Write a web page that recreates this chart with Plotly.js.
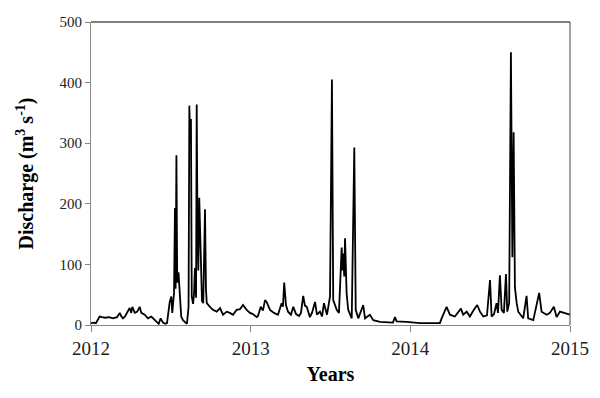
<!DOCTYPE html>
<html>
<head>
<meta charset="utf-8">
<script src="https://cdn.plot.ly/plotly-3.0.1.min.js"></script>
<style>html,body{margin:0;padding:0;background:#fff;}#chart{width:600px;height:398px;}</style>
</head>
<body>
<div id="chart"></div>
<script>
// Time in decimal years
const years = [
2012.000,2012.019,2012.031,2012.054,2012.069,2012.088,2012.113,2012.138,2012.163,2012.180,
2012.188,2012.200,2012.213,2012.227,2012.242,2012.252,2012.259,2012.274,2012.290,2012.305,
2012.315,2012.336,2012.357,2012.378,2012.399,2012.409,2012.424,2012.436,2012.451,2012.465,
2012.476,2012.493,2012.503,2012.509,2012.520,2012.526,2012.530,2012.535,2012.540,2012.548,
2012.554,2012.565,2012.576,2012.587,2012.601,2012.611,2012.616,2012.621,2012.626,2012.631,
2012.639,2012.645,2012.651,2012.658,2012.662,2012.667,2012.672,2012.678,2012.684,2012.689,
2012.695,2012.703,2012.714,2012.720,2012.725,2012.745,2012.764,2012.787,2012.808,2012.827,
2012.850,2012.870,2012.889,2012.912,2012.933,2012.952,2012.975,2012.996,2013.014,2013.038,
2013.046,2013.063,2013.077,2013.090,2013.100,2013.121,2013.146,2013.171,2013.194,2013.202,
2013.210,2013.221,2013.234,2013.252,2013.267,2013.284,2013.303,2013.315,2013.329,2013.340,
2013.351,2013.371,2013.384,2013.403,2013.415,2013.434,2013.447,2013.459,2013.468,2013.478,
2013.497,2013.509,2013.517,2013.539,2013.553,2013.570,2013.575,2013.580,2013.586,2013.591,
2013.601,2013.611,2013.633,2013.649,2013.658,2013.674,2013.705,2013.716,2013.747,2013.768,
2013.810,2013.854,2013.891,2013.904,2013.914,2013.977,2014.060,2014.123,2014.185,2014.196,
2014.227,2014.248,2014.279,2014.317,2014.331,2014.353,2014.373,2014.398,2014.419,2014.436,
2014.457,2014.480,2014.499,2014.509,2014.524,2014.540,2014.549,2014.561,2014.572,2014.586,
2014.599,2014.607,2014.619,2014.630,2014.635,2014.639,2014.647,2014.655,2014.666,2014.676,
2014.707,2014.728,2014.738,2014.770,2014.807,2014.822,2014.854,2014.874,2014.899,2014.916,
2014.937,2014.958,2014.979,2015.000
];
// Discharge (m3 s-1)
const discharge = [
3,4,3,14,13,12,13,11,13,20,
15,11,14,22,28,20,30,20,22,30,
20,17,11,14,8,5,2,11,4,2,
3,38,47,20,53,193,60,280,70,87,
60,14,8,5,2,30,362,300,340,47,
35,50,94,45,364,150,90,210,150,60,
40,36,191,60,36,30,25,22,28,17,
22,20,17,25,26,33,25,20,18,13,
15,30,24,41,38,25,20,17,36,30,
70,33,22,17,30,18,15,20,48,32,
30,13,20,38,17,22,14,36,25,17,
47,405,41,25,20,128,90,118,80,143,
52,25,11,293,25,11,33,11,17,8,
5,5,4,13,6,5,3,3,3,11,
30,17,14,27,17,22,14,25,33,22,
14,16,74,14,18,36,20,82,25,20,
84,22,36,450,130,112,318,62,36,22,
11,48,11,8,53,22,17,20,30,13,
22,20,18,17
];
const xTicks = [2012, 2013, 2014, 2015];
const yTicks = [0, 100, 200, 300, 400, 500];

const axisGray = '#868686';
const trace = {
  x: years, y: discharge, type: 'scatter', mode: 'lines',
  line: {color: '#000', width: 1.8}, hoverinfo: 'skip'
};
const layout = {
  width: 600, height: 398,
  margin: {l: 91, r: 30, t: 22, b: 73},
  paper_bgcolor: '#fff', plot_bgcolor: '#fff',
  showlegend: false,
  font: {family: '"Liberation Serif", "Times New Roman", serif', color: '#222'},
  xaxis: {
    range: [2012, 2015], tickvals: xTicks, ticktext: xTicks.map(String),
    showgrid: false, zeroline: false, showline: true, linecolor: axisGray, linewidth: 1,
    ticks: 'outside', ticklen: 6, tickcolor: axisGray, tickwidth: 1,
    tickfont: {size: 19, color: '#222'},
    title: {text: '<b>Years</b>', font: {size: 20, color: '#000'}, standoff: 9}
  },
  yaxis: {
    range: [0, 500], tickvals: yTicks, ticktext: yTicks.map(String),
    showgrid: false, zeroline: false, showline: true, linecolor: axisGray, linewidth: 1,
    ticks: 'outside', ticklen: 5, tickcolor: axisGray, tickwidth: 1,
    tickfont: {size: 15, color: '#222'},
    title: {text: '<b>Discharge (m<sup>3</sup> s<sup>-1</sup>)</b>', font: {size: 20, color: '#000'}, standoff: 20}
  },
  shapes: [
    {type: 'line', xref: 'paper', yref: 'paper', x0: 0, x1: 1, y0: 1, y1: 1, line: {color: '#000', width: 1.2}},
    {type: 'line', xref: 'paper', yref: 'paper', x0: 1, x1: 1, y0: 0, y1: 1, line: {color: '#444', width: 1}}
  ]
};
Plotly.newPlot('chart', [trace], layout, {displayModeBar: false, staticPlot: true});
</script>
</body>
</html>
